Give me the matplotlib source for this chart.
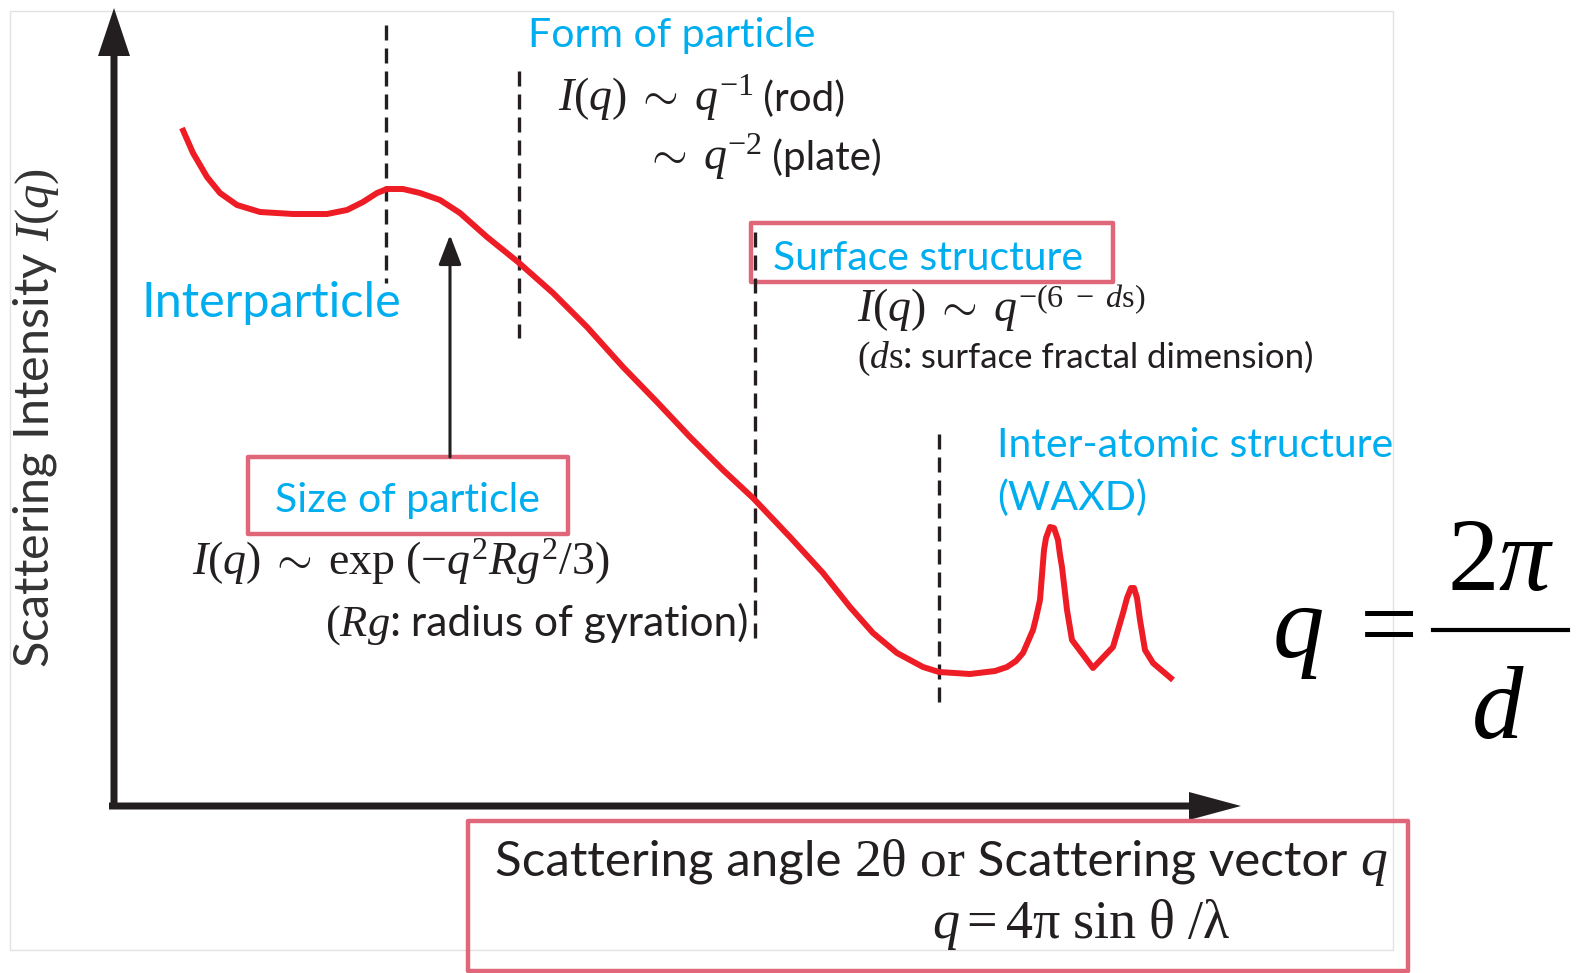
import matplotlib.pyplot as plt
from matplotlib.patches import Rectangle
from matplotlib.offsetbox import TextArea, HPacker, AnnotationBbox

# ---- schematic curve (pixel frame, y grows downward) ----
curve_q = [182, 193, 207, 220, 237, 260, 293, 327, 347, 363, 377, 387, 403, 420,
           440, 460, 487, 518, 553, 587, 623, 657, 690, 723, 753, 790, 823, 850,
           873, 897, 923, 939, 970, 995, 1007, 1016, 1023, 1033, 1036, 1040, 1042,
           1044, 1046, 1050, 1054, 1058, 1060, 1062, 1067, 1072, 1093, 1113, 1123,
           1127, 1131, 1134, 1137, 1140, 1145, 1153, 1173]
curve_I = [128, 153, 177, 193, 205, 212, 214, 214, 210, 202, 193, 189, 189, 193,
           200, 213, 237, 262, 293, 327, 367, 402, 437, 470, 498, 537, 573, 607,
           633, 653, 667, 672, 674, 671, 667, 661, 653, 630, 618, 600, 575,
           550, 538, 527, 528, 540, 555, 567, 610, 640, 668, 647, 613,
           598, 588, 588, 598, 620, 650, 663, 680]

# dashed region borders: x, y_top, y_bottom
dash_x = [386, 519, 755, 939]
dash_top = [25, 71, 232, 434]
dash_bot = [283, 338, 641, 702]

CYAN = '#00AEEF'
PINK = '#E0677A'
RED = '#EE1C25'
INK = '#231F20'

plt.rcParams['font.family'] = ['Lato', 'DejaVu Sans']
plt.rcParams['mathtext.fontset'] = 'custom'
plt.rcParams['mathtext.rm'] = 'Liberation Serif'
plt.rcParams['mathtext.it'] = 'Liberation Serif:italic'
plt.rcParams['mathtext.bf'] = 'Liberation Serif:bold'

fig = plt.figure(figsize=(15.85, 9.73), dpi=100)
ax = fig.add_axes([0, 0, 1, 1])
ax.set_xlim(0, 1585)
ax.set_ylim(973, 0)
ax.axis('off')


def rich(x, y, parts):
    """one line of mixed serif / sans pieces, left edge x, vertical centre y"""
    kids = [TextArea(s, textprops=dict(color=INK, fontsize=fs)) for s, fs in parts]
    box = HPacker(children=kids, align='baseline', pad=0, sep=0)
    ax.add_artist(AnnotationBbox(box, (x, y), xycoords='data', frameon=False,
                                 box_alignment=(0, 0.5), pad=0))


# light frame of the original slide
ax.add_patch(Rectangle((10, 11), 1383, 939, fill=False, ec='#e2e2e2', lw=1))

# axes arrows
ax.arrow(114, 808, 0, -800, width=7, head_width=32, head_length=48,
         length_includes_head=True, color=INK, lw=0)
ax.arrow(109, 806, 1132, 0, width=7, head_width=28, head_length=52,
         length_includes_head=True, color=INK, lw=0)

# dashed lines
for x, y0, y1 in zip(dash_x, dash_top, dash_bot):
    ax.plot([x, x], [y0, y1], color=INK, lw=2.4, dashes=(4.5, 2.4))

# the scattering curve
ax.plot(curve_q, curve_I, color=RED, lw=4.3, solid_joinstyle='round',
        solid_capstyle='butt')

# arrow pointing to the hump
ax.annotate('', xy=(450, 235), xytext=(450, 457),
            arrowprops=dict(arrowstyle='-|>,head_length=0.65,head_width=0.25',
                            color=INK, lw=2.2, mutation_scale=28,
                            shrinkA=0, shrinkB=0))

# pink boxes
for (x0, y0, x1, y1) in [(248, 457, 568, 534), (751, 223, 1113, 282),
                         (468, 821, 1408, 971)]:
    ax.add_patch(Rectangle((x0, y0), x1 - x0, y1 - y0, fill=False,
                           ec=PINK, lw=3.2, joinstyle='round'))

# cyan labels
ax.text(528, 47, 'Form of particle', color=CYAN, fontsize=29.5)
ax.text(773, 270, 'Surface structure', color=CYAN, fontsize=29.5)
ax.text(142, 317, 'Interparticle', color=CYAN, fontsize=35)
ax.text(275, 512, 'Size of particle', color=CYAN, fontsize=29.5)
ax.text(997, 457, 'Inter-atomic structure', color=CYAN, fontsize=29.5)
ax.text(997, 510, '(WAXD)', color=CYAN, fontsize=29.5)

# formulas
rich(558, 98, [(r'$I(q)\;\sim\;q^{-1}$', 33), (' (rod)', 29)])
rich(645, 157, [(r'$\sim\;q^{-2}$', 33), (' (plate)', 29)])
rich(857, 308, [(r'$I(q)\;\sim\;q^{-(6\ -\ d\mathrm{s})}$', 33)])
rich(857, 358, [(r'$(d\mathrm{s}$:', 27), (' surface fractal dimension)', 25)])
rich(192, 562, [(r'$I(q)\;\sim\;\mathrm{exp}\ (-q^2Rg^2/3)$', 33)])
rich(325, 625, [(r'$(Rg$:', 32), (' radius of gyration)', 30.5)])

# x-axis caption
rich(495, 863, [('Scattering angle ', 35.5), (r'$\mathrm{2\theta\ or}$', 38.5),
                (' Scattering vector ', 35.5), (r'$q$', 38.5)])
rich(932, 924, [(r'$q = \mathrm{4\pi\ sin\ \theta\ /\lambda}$', 39)])

# y-axis caption
ax.text(36, 418, r'Scattering Intensity $I(q)$', color='#333333', fontsize=35,
        rotation=90, ha='center', va='center')

# q = 2 pi / d
ax.text(1272, 657, r'$q$', fontsize=74, color='black')
ax.text(1380, 657, r'$=$', fontsize=74, color='black', ha='center')
ax.text(1501, 590, r'$2\pi$', fontsize=74, color='black', ha='center')
ax.plot([1433, 1568], [630, 630], color='black', lw=3)
ax.text(1498, 738, r'$d$', fontsize=74, color='black', ha='center')

fig.savefig('out.png', dpi=100)
